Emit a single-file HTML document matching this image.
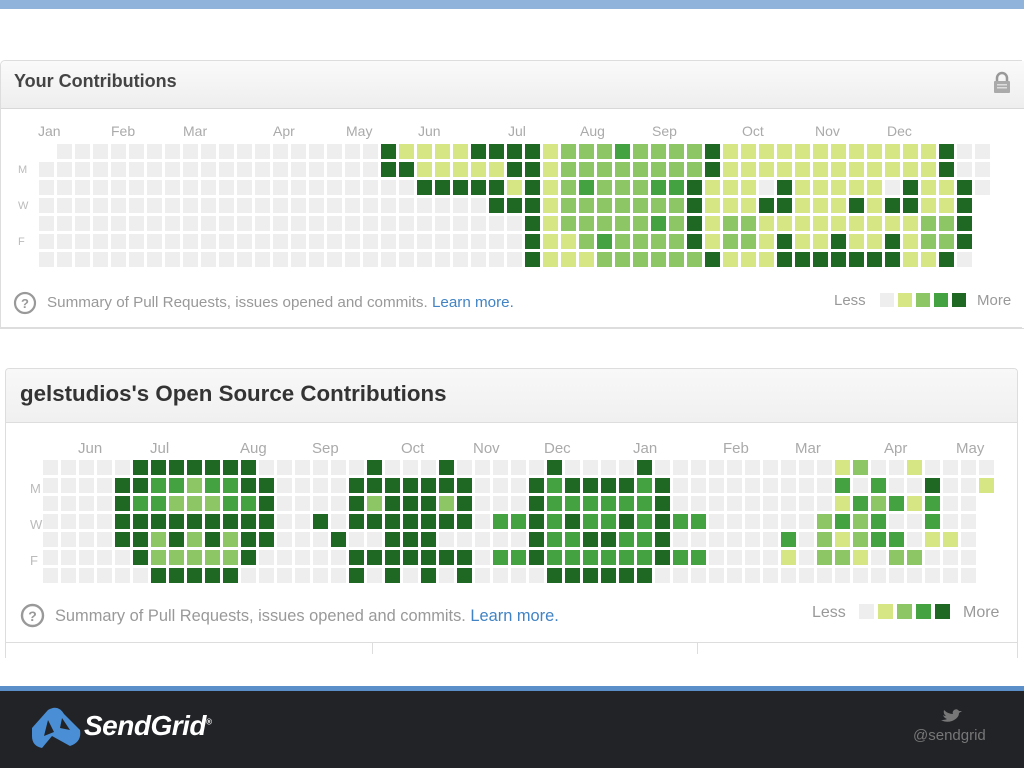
<!DOCTYPE html>
<html><head><meta charset="utf-8"><style>
body{margin:0;width:1024px;height:768px;overflow:hidden;background:#fff;position:relative;font-family:"Liberation Sans",sans-serif}
.a{position:absolute}
.c{position:absolute;width:15px;height:15px}
.m{position:absolute;color:#aaa;font-size:14px}
.d{position:absolute;color:#bbb;font-size:11px}
</style></head><body>
<div class="a" style="left:0;top:0;width:1024px;height:9px;background:#8fb3db"></div>

<div class="a" style="left:0;top:60px;width:1022px;height:268px;border:1px solid #ddd;border-right:none;border-radius:5px 0 0 0;box-sizing:border-box"></div>
<div class="a" style="left:1px;top:61px;width:1023px;height:47px;background:linear-gradient(#fafafa,#eeeeee);border-bottom:1px solid #d8d8d8;border-radius:5px 0 0 0"></div>
<div class="a" style="left:14px;top:71px;font-size:18px;font-weight:bold;color:#444">Your Contributions</div>
<svg class="a" style="left:992px;top:71px" width="20" height="24"><path d="M5 10V7a5 5 0 0 1 10 0v3" fill="none" stroke="#999" stroke-width="2.5"/><rect x="2" y="10" width="16" height="12" rx="1" fill="#aaa"/><rect x="5" y="13" width="10" height="1.5" fill="#ddd"/><rect x="5" y="16" width="10" height="1.5" fill="#ddd"/></svg>
<div class="a" style="left:0;top:328px;width:1024px;height:1px;background:#ddd"></div>

<div class="a" style="left:5px;top:368px;width:1013px;height:290px;border:1px solid #ddd;border-bottom:none;border-radius:4px 4px 0 0;box-sizing:border-box"></div>
<div class="a" style="left:6px;top:369px;width:1011px;height:53px;background:linear-gradient(#f8f8f8,#f0f0f0);border-bottom:1px solid #ddd;border-radius:4px 4px 0 0"></div>
<div class="a" style="left:20px;top:381px;font-size:22.3px;font-weight:bold;color:#333">gelstudios's Open Source Contributions</div>
<div class="a" style="left:5px;top:642px;width:1013px;height:1px;background:#ddd"></div>
<div class="a" style="left:372px;top:642px;width:1px;height:12px;background:#ddd"></div>
<div class="a" style="left:697px;top:642px;width:1px;height:12px;background:#ddd"></div>

<div id="g"></div>

<svg class="a" style="left:13px;top:291px" width="24" height="24"><circle cx="12" cy="12" r="10" fill="none" stroke="#999" stroke-width="2.2"/><text x="12" y="17" text-anchor="middle" font-size="13" font-weight="bold" fill="#999" font-family="Liberation Sans">?</text></svg>
<div class="a" style="left:47px;top:294px;font-size:15.2px;color:#999">Summary of Pull Requests, issues opened and commits. <span style="color:#4183c4">Learn more.</span></div>
<div class="a" style="left:834px;top:292px;font-size:15px;color:#999">Less</div>
<div class="a" style="left:977px;top:292px;font-size:15px;color:#999">More</div>

<svg class="a" style="left:20px;top:603px" width="25" height="25"><circle cx="12.5" cy="12.5" r="10.5" fill="none" stroke="#999" stroke-width="2.4"/><text x="12.5" y="18" text-anchor="middle" font-size="14" font-weight="bold" fill="#999" font-family="Liberation Sans">?</text></svg>
<div class="a" style="left:55px;top:607px;font-size:16.4px;color:#999">Summary of Pull Requests, issues opened and commits. <span style="color:#4183c4">Learn more.</span></div>
<div class="a" style="left:812px;top:604px;font-size:16px;color:#999">Less</div>
<div class="a" style="left:963px;top:604px;font-size:16px;color:#999">More</div>

<div class="a" style="left:0;top:686px;width:1024px;height:5px;background:#5b8fc9"></div>
<div class="a" style="left:0;top:691px;width:1024px;height:77px;background:#222327"></div>
<svg class="a" style="left:30px;top:706px" width="52" height="44"><path d="M2 22 L18 4 Q28 -2 34 8 L50 24 Q52 36 40 40 L22 30 L12 42 Q2 40 2 30Z" fill="#4a8fd6"/><path d="M18 14 L24 26 L14 30Z M32 12 L40 24 L30 22Z" fill="#222327"/></svg>
<div class="a" style="left:84px;top:710px;font-size:28px;font-weight:bold;font-style:italic;color:#fff;letter-spacing:-0.5px">SendGrid<span style="font-size:8px;vertical-align:super">®</span></div>
<svg class="a" style="left:940px;top:709px" width="22" height="16"><path d="M1 11 Q6 14 12 12 Q19 9 19 4 L22 2 L19 2 Q17 -1 14 1 Q12 3 13 5 Q8 5 4 1 Q3 5 6 7 Q4 7 3 6 Q4 9 7 10 Q5 11 1 11Z" fill="#777"/></svg>
<div class="a" style="left:913px;top:727px;font-size:15px;color:#777">@sendgrid</div>

<script>
(function(){
var C=['#eeeeee','#d6e685','#8cc665','#44a340','#1e6823'];
var h='';
function cell(x,y,v,s){s=s||15;h+='<div class="c" style="left:'+x+'px;top:'+y+'px;width:'+s+'px;height:'+s+'px;background:'+C[v]+'"></div>';}
function grid(rows,x0,y0){rows.forEach(function(r,ri){for(var k=0;k<r.length;k++){var ch=r[k];if(ch=='.')continue;cell(x0+18*k,y0+18*ri,+ch);}});}
function build(len,spec){var a=[];for(var i=0;i<len;i++)a.push('0');spec.split(',').forEach(function(p){if(!p)return;var q=p.split(':'),v=q[1],r=q[0].split('-');var s=+r[0],e=r.length>1?+r[1]:s;for(var i=s;i<=e;i++)a[i]=v;});return a.join('');}
var topRows=[
"000000000000000000"+"411114444122232222"+"4"+"111111111111"+"4"+"00",
"000000000000000000"+"441111144122222222"+"4"+"111111111111"+"4"+"00",
"000000000000000000"+"004444414123222334"+"1110411111041140",
"000000000000000000"+"000000444122222224"+"111441114144114"+".",
"000000000000000000"+"000000004122222324"+"122111111111224"+".",
"000000000000000000"+"000000004112322224"+"122141141141224"+".",
"000000000000000000"+"000000004111222222"+"411144444441140"+"."];
grid(topRows,57,144);
for(var r=1;r<7;r++)cell(39,144+18*r,0);
var bot=[
build(53,"5-11:4,18:4,22:4,28:4,33:4,44:1,45:2,48:1"),
build(53,"4-5:4,6:3,7:3,8:2,9:3,10:3,11-12:4,17-23:4,27:4,28:3,29-32:4,33:3,34:4,44:3,46:3,49:4,52:1"),
build(52,"4:4,5:3,6:3,7-9:2,10:3,11:3,12:4,17:4,18:2,19-21:4,22:2,23:4,27:4,28-33:3,34:4,44:1,45:3,46:2,47:3,48:1,49:3"),
build(52,"4-12:4,15:4,17-23:4,25:3,26:3,27:4,28:3,29:4,30:3,31:3,32:4,33:3,34:4,35:3,36:3,43:2,44:3,45:2,46:3,49:3"),
build(52,"4:4,5:4,6:2,7:4,8:2,9:4,10:2,11:4,12:4,16:4,19-21:4,27:4,28:3,29:3,30:4,31:4,32:3,33:3,34:4,41:3,43:2,44:1,45:2,46:3,47:3,49:1,50:1"),
build(52,"5:4,6-10:2,11:4,17-23:4,25:3,26:3,27:4,28-33:3,34:4,35:3,36:3,41:1,43:2,44:2,45:1,47:2,48:2"),
build(52,"6-10:4,17:4,19:4,21:4,23:4,28-33:4")];
grid(bot,43,460);
[0,1,2,3,4].forEach(function(v,i){cell(880+18*i,293,v,14);cell(859+19*i,604,v,15);});
var tm=[["Jan",38],["Feb",111],["Mar",183],["Apr",273],["May",346],["Jun",418],["Jul",508],["Aug",580],["Sep",652],["Oct",742],["Nov",815],["Dec",887]];
tm.forEach(function(m){h+='<div class="m" style="left:'+m[1]+'px;top:123px">'+m[0]+'</div>';});
var bm=[["Jun",78],["Jul",150],["Aug",240],["Sep",312],["Oct",401],["Nov",473],["Dec",544],["Jan",633],["Feb",723],["Mar",795],["Apr",884],["May",956]];
bm.forEach(function(m){h+='<div class="m" style="left:'+m[1]+'px;top:440px;font-size:15px">'+m[0]+'</div>';});
[["M",164],["W",200],["F",236]].forEach(function(d){h+='<div class="d" style="left:18px;top:'+d[1]+'px">'+d[0]+'</div>';});
[["M",481],["W",517],["F",553]].forEach(function(d){h+='<div class="d" style="left:30px;top:'+d[1]+'px;font-size:13px">'+d[0]+'</div>';});
document.getElementById('g').innerHTML=h;
})();
</script>
</body></html>
